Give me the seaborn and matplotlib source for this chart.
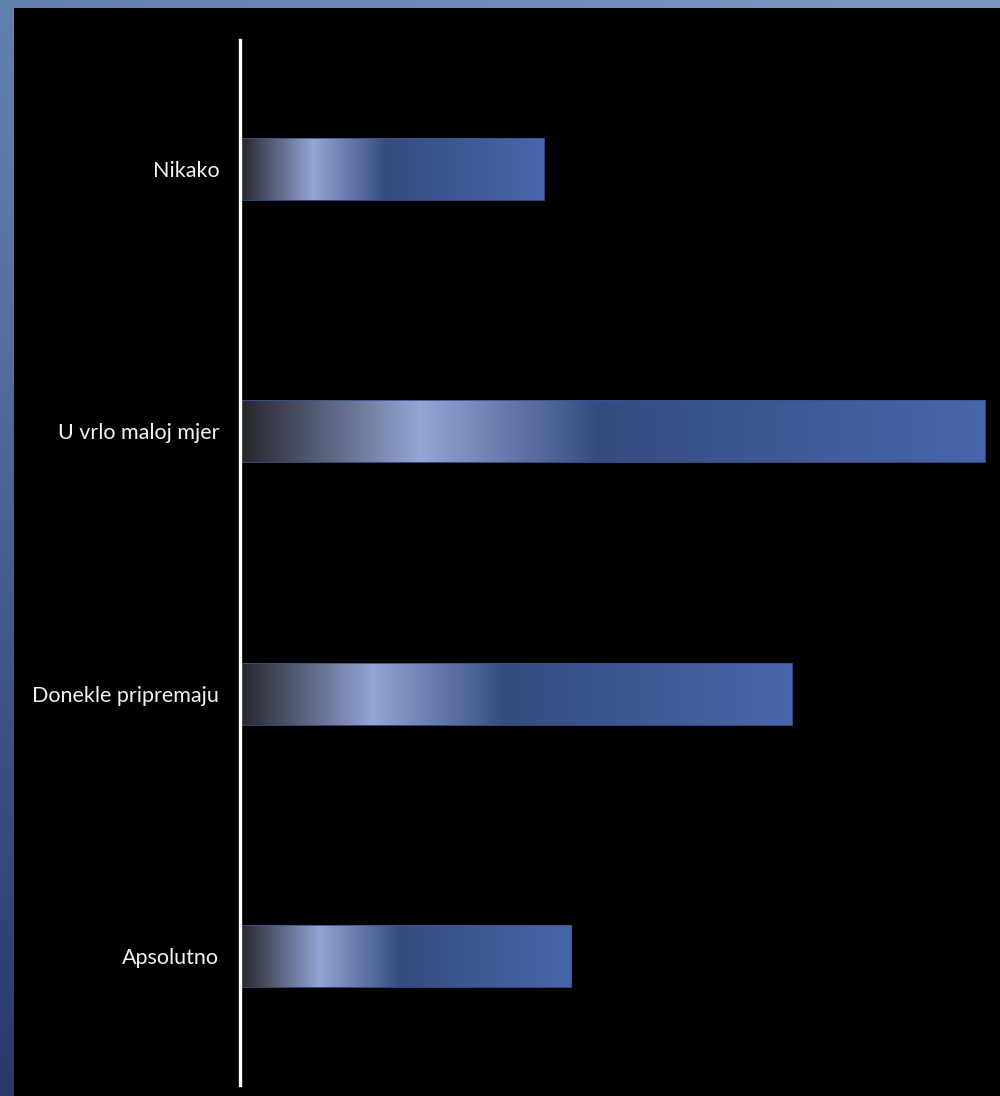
import numpy as np
import pandas as pd
import seaborn as sns
import matplotlib.pyplot as plt
from matplotlib.colors import LinearSegmentedColormap

categories = ["Nikako", "U vrlo maloj mjer", "Donekle pripremaju", "Apsolutno"]
values = [11, 27, 20, 12]

df = pd.DataFrame({"odgovor": categories, "broj": values})

sns.set_theme(style="white")
plt.rcParams["font.family"] = ["Lato", "DejaVu Sans"]

fig = plt.figure(figsize=(10, 10.96), dpi=100)

# blue slide background (lighter top-right, darker bottom-left)
bg = fig.add_axes([0, 0, 1, 1])
yy, xx = np.mgrid[0:1:200j, 0:1:200j]
grad = 0.6 * yy + 0.4 * xx
bg_cmap = LinearSegmentedColormap.from_list("bg", ["#2a3868", "#5a7aa8", "#7b98c0"])
bg.imshow(grad, cmap=bg_cmap, extent=[0, 1, 0, 1], aspect="auto", origin="lower")
bg.set_axis_off()

# black panel
panel = fig.add_axes([14 / 1000, 0, 986 / 1000, 1 - 8 / 1096])
panel.set_facecolor("black")
panel.set_xticks([])
panel.set_yticks([])
for s in panel.spines.values():
    s.set_visible(False)

ax = fig.add_axes([240 / 1000, 1 - 1085 / 1096, 760 / 1000, (1085 - 40) / 1096])
ax.patch.set_alpha(0)
sns.barplot(data=df, x="broj", y="odgovor", orient="h", width=0.236,
            color="#4766ab", ax=ax)

bar_cmap = LinearSegmentedColormap.from_list(
    "bar", [(0, "#26272c"), (0.24, "#94a5d6"), (0.48, "#364c80"), (1, "#4766ab")])
ramp = np.linspace(0, 1, 256).reshape(1, -1)
for p in ax.patches:
    x0, y0 = p.get_x(), p.get_y()
    w, h = p.get_width(), p.get_height()
    p.set_facecolor("none")
    p.set_edgecolor("#3b5290")
    p.set_linewidth(0.6)
    im = ax.imshow(ramp, cmap=bar_cmap, extent=[x0, x0 + w, y0 + h, y0],
                   aspect="auto", zorder=p.get_zorder() - 0.1)
    im.set_clip_path(p)

ax.set_xlim(0, 27 * 760 / 745)
ax.set_ylim(3.49, -0.49)
ax.set_xlabel("")
ax.set_ylabel("")
ax.set_xticks([])
ax.tick_params(axis="y", length=0, pad=15, labelsize=15.5, labelcolor="#f2f2f2")
for s in ["top", "right", "bottom"]:
    ax.spines[s].set_visible(False)
ax.spines["left"].set_color("white")
ax.spines["left"].set_linewidth(2.4)

fig.savefig("out.png", dpi=100)
